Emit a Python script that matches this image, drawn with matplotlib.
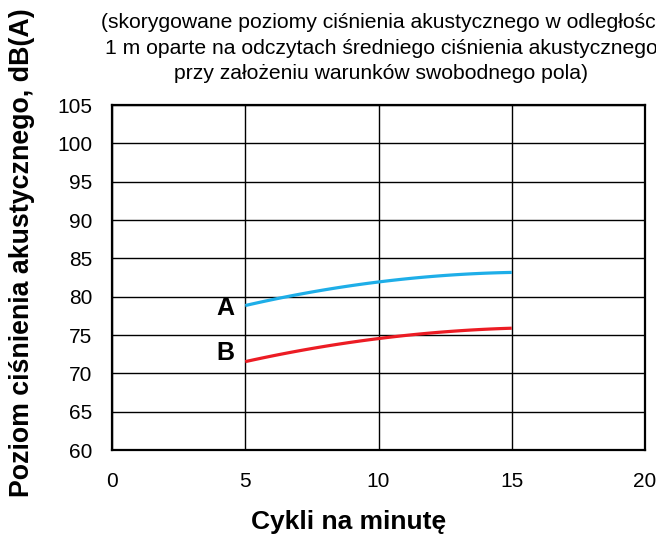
import matplotlib
matplotlib.use("Agg")
import matplotlib.pyplot as plt
import numpy as np

plt.rcParams['font.family'] = ['Liberation Sans', 'DejaVu Sans']

# Sound pressure level vs. cycles per minute
cycles_a = [5, 7.5, 10, 12.5, 15]
level_a = [78.8, 80.7, 81.9, 82.7, 83.2]
cycles_b = [5, 7.5, 10, 12.5, 15]
level_b = [71.5, 73.3, 74.5, 75.4, 75.9]

x_ticks = [0, 5, 10, 15, 20]
y_ticks = [60, 65, 70, 75, 80, 85, 90, 95, 100, 105]

subtitle = ("(skorygowane poziomy ciśnienia akustycznego w odległości\n"
            "1 m oparte na odczytach średniego ciśnienia akustycznego\n"
            "przy założeniu warunków swobodnego pola)")


def smooth(x, y, n=100):
    coef = np.polyfit(x, y, 2)
    xs = np.linspace(min(x), max(x), n)
    return xs, np.polyval(coef, xs)


fig = plt.figure(figsize=(6.56, 5.41), dpi=100)
ax = fig.add_axes([112 / 656, 1 - 450 / 541, (645 - 112) / 656, (450 - 105) / 541])

xa, ya = smooth(cycles_a, level_a)
xb, yb = smooth(cycles_b, level_b)
ax.plot(xa, ya, color='#1eaee8', lw=2.3, solid_capstyle='butt', zorder=3)
ax.plot(xb, yb, color='#ec1c24', lw=2.3, solid_capstyle='butt', zorder=3)

ax.text(4.6, level_a[0] - 0.3, 'A', fontsize=18, fontweight='bold', ha='right', va='center')
ax.text(4.6, level_b[0] + 1.1, 'B', fontsize=18, fontweight='bold', ha='right', va='center')

ax.set_xlim(0, 20)
ax.set_ylim(60, 105)
ax.set_xticks(x_ticks)
ax.set_yticks(y_ticks)
ax.grid(True, color='black', lw=1.0)
ax.set_axisbelow(True)
ax.tick_params(length=0, labelsize=15, pad=14)
ax.tick_params(axis='x', pad=16)
for s in ax.spines.values():
    s.set_linewidth(1.6)

fig.text(349 / 656, 1 - 529 / 541, 'Cykli na minutę', fontsize=19, fontweight='bold',
         ha='center', va='baseline')
fig.text(22 / 656, 1 - 253 / 541, 'Poziom ciśnienia akustycznego, dB(A)', fontsize=19.3,
         fontweight='bold', rotation=90, ha='center', va='center')
fig.text(381 / 656, 1 - 48 / 541, subtitle, fontsize=15.2, ha='center', va='center',
         linespacing=1.42)

fig.savefig('out.png', dpi=100)
